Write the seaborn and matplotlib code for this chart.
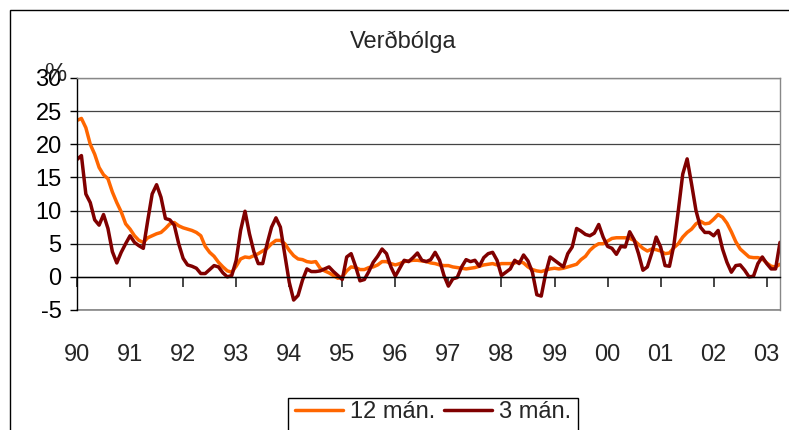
import numpy as np
import pandas as pd
import seaborn as sns
import matplotlib.pyplot as plt
from matplotlib.patches import Rectangle

# Verðbólga, mánaðarleg gögn jan 1990 - apr 2003
start_year = 1990
n_months = 160
year_labels = ['90', '91', '92', '93', '94', '95', '96', '97', '98', '99', '00', '01', '02', '03']

infl_12m = [
    23.6, 23.9, 22.5, 20.0, 18.5, 16.5, 15.4, 14.8, 12.8, 11.2, 9.8, 8.0,
    7.2, 6.2, 5.5, 5.2, 5.9, 6.2, 6.5, 6.7, 7.3, 8.0, 8.2, 7.7,
    7.4, 7.2, 7.0, 6.7, 6.2, 4.6, 3.7, 3.1, 2.2, 1.5, 0.9, 0.7,
    1.6, 2.7, 3.0, 2.9, 3.2, 3.5, 3.9, 4.3, 5.0, 5.5, 5.5, 5.0,
    4.0, 3.2, 2.7, 2.6, 2.3, 2.2, 2.3, 1.3, 0.9, 0.6, 0.2, -0.2,
    0.0, 0.9, 1.5, 1.4, 1.1, 1.1, 1.4, 1.5, 1.8, 2.3, 2.3, 2.0,
    1.8, 2.0, 2.3, 2.4, 2.5, 2.5, 2.4, 2.3, 2.1, 2.0, 1.8, 1.7,
    1.7, 1.5, 1.4, 1.3, 1.2, 1.3, 1.4, 1.6, 1.8, 1.9, 2.0, 1.8,
    2.0, 2.0, 2.0, 2.1, 2.3, 2.1, 1.5, 1.1, 0.9, 0.8, 1.0, 1.2,
    1.3, 1.2, 1.3, 1.5, 1.7, 1.9, 2.6, 3.1, 4.0, 4.6, 5.0, 5.0,
    5.4, 5.8, 5.9, 5.9, 5.9, 5.8, 5.5, 4.9, 4.3, 3.9, 4.2, 4.1,
    3.9, 3.5, 3.6, 4.4, 5.0, 6.0, 6.7, 7.2, 8.0, 8.4, 8.0, 8.1,
    8.7, 9.4, 9.0, 8.1, 6.8, 5.3, 4.2, 3.6, 3.0, 2.9, 2.9, 2.7,
    2.1, 1.6, 1.5, 1.9,
]

infl_3m = [
    17.7, 18.3, 12.5, 11.2, 8.6, 7.8, 9.4, 7.3, 3.8, 2.1, 3.7, 5.0,
    6.2, 5.2, 4.7, 4.3, 8.5, 12.5, 13.9, 12.0, 8.8, 8.6, 7.8, 5.0,
    2.8, 1.8, 1.6, 1.3, 0.5, 0.5, 1.1, 1.7, 1.5, 0.6, 0.0, 0.2,
    2.5, 7.0, 9.9, 6.5, 3.8, 2.0, 2.0, 5.0, 7.5, 8.9, 7.5, 3.3,
    -0.8, -3.5, -2.8, -0.5, 1.2, 0.8, 0.8, 0.9, 1.2, 1.5, 0.8, 0.2,
    -0.4, 3.0, 3.5, 1.6, -0.6, -0.4, 0.8, 2.2, 3.1, 4.2, 3.5, 1.5,
    0.1, 1.3, 2.5, 2.3, 2.9, 3.6, 2.5, 2.3, 2.6, 3.7, 2.5, 0.2,
    -1.4, -0.3, -0.1, 1.5, 2.6, 2.3, 2.5, 1.6, 2.9, 3.5, 3.7, 2.5,
    0.2, 0.7, 1.2, 2.5, 2.0, 3.3, 2.4, 0.7, -2.7, -2.9, 0.5, 3.0,
    2.5, 2.0, 1.5, 3.5, 4.5, 7.3, 6.9, 6.4, 6.2, 6.6, 7.9, 6.0,
    4.6, 4.3, 3.4, 4.6, 4.5, 6.8, 5.6, 3.5, 1.0, 1.5, 3.6, 6.0,
    4.5, 1.7, 1.6, 4.8, 10.0, 15.5, 17.8, 14.0, 10.0, 7.5, 6.7, 6.7,
    6.2, 7.0, 4.2, 2.2, 0.7, 1.7, 1.8, 1.0, 0.0, 0.1, 2.0, 3.0,
    2.0, 1.2, 1.2, 5.2,
]

t = start_year + np.arange(n_months) / 12
df = pd.DataFrame({
    't': np.concatenate([t, t]),
    'v': infl_12m + infl_3m,
    'series': ['12 mán.'] * n_months + ['3 mán.'] * n_months,
})

sns.set_style('white')
plt.rcParams['font.family'] = ['Liberation Sans', 'DejaVu Sans']
plt.rcParams['axes.unicode_minus'] = False

W, H = 789, 430
fig = plt.figure(figsize=(W / 100, H / 100), dpi=100)
ax = fig.add_axes([77 / W, 1 - 310 / H, (780 - 77) / W, (310 - 78) / H])

sns.lineplot(data=df, x='t', y='v', hue='series',
             palette={'12 mán.': '#FF6600', '3 mán.': '#800000'},
             linewidth=2.5, ax=ax, legend=False)

ax.set_xlim(start_year, t[-1])
ax.set_ylim(-5, 30)
ax.set_yticks(range(-5, 31, 5))
ax.set_xticks(range(start_year, start_year + len(year_labels)))
ax.set_xticklabels(year_labels)
ax.set_xlabel('')
ax.set_ylabel('')

ax.yaxis.grid(True, color='#444444', linewidth=0.9)
ax.set_axisbelow(True)
ax.axhline(-5, color='#888888', linewidth=1.2, clip_on=False, zorder=0)
ax.spines['bottom'].set_position(('data', 0))
ax.spines['bottom'].set_color('black')
ax.spines['left'].set_color('black')
ax.spines['top'].set_color('#888888')
ax.spines['right'].set_color('#888888')
for s in ax.spines.values():
    s.set_linewidth(1)

ax.tick_params(axis='y', left=True, length=5, width=1, pad=6, labelsize=17, colors='black')
ax.tick_params(axis='x', bottom=True, direction='out', length=7, width=1.2, pad=41, labelsize=17)

fig.text(403 / W, 1 - 42 / H, 'Verðbólga', ha='center', va='center', fontsize=17)
fig.text(55 / W, 1 - 74 / H, '%', ha='center', va='center', fontsize=18)

# legend box runs off the bottom edge, like the original
fig.legend(handles=ax.lines[:2], labels=['12 mán.', '3 mán.'], loc='upper center',
           bbox_to_anchor=(433 / W, 1 - 399 / H), borderaxespad=0, ncol=2, fontsize=17,
           frameon=False, handlelength=2.0, handletextpad=0.3, columnspacing=0.4, borderpad=0.1)
fig.patches.append(Rectangle((288 / W, -0.1), (578 - 288) / W, 0.1 + 1 - 398 / H,
                             transform=fig.transFigure, fill=False, edgecolor='black', linewidth=1))

fig.patches.append(Rectangle((10 / W, -0.5), 2, 1.5 - 10 / H, transform=fig.transFigure,
                             fill=False, edgecolor='black', linewidth=1))

fig.savefig('out.png', dpi=100)
